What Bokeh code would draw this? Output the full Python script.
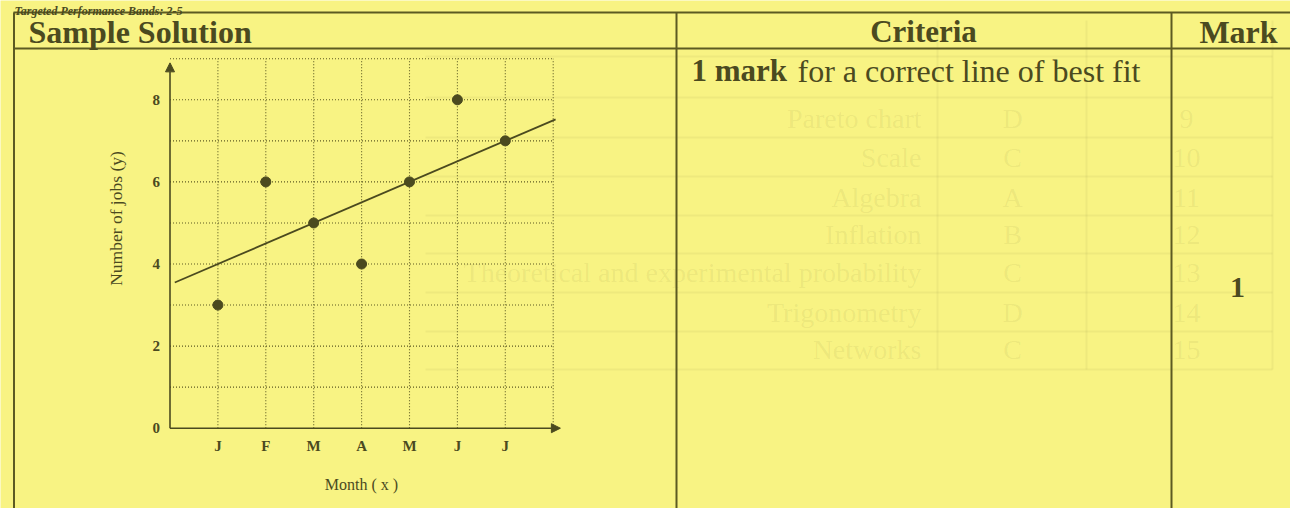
from bokeh.plotting import figure
from bokeh.models import Range1d, LinearAxis, FixedTicker, Label, Arrow, NormalHead
from bokeh.embed import file_html
from bokeh.resources import INLINE
import math

# Jobs per month, January to July
months = ["J", "F", "M", "A", "M", "J", "J"]
month_pos = [1, 2, 3, 4, 5, 6, 7]
jobs = [3, 6, 5, 4, 6, 8, 7]

# Line of best fit y = a + b x
fit_intercept = 3.5
fit_slope = 0.5
fit_x = [0.1, 8.05]
fit_y = [fit_intercept + fit_slope * x for x in fit_x]

y_ticks = [0, 2, 4, 6, 8]
grid_x = [1, 2, 3, 4, 5, 6, 7, 8]
grid_y = [1, 2, 3, 4, 5, 6, 7, 8, 9]

# Table text
title_text = "Targeted Performance Bands: 2-5"
col_heads = ["Sample Solution", "Criteria", "Mark"]
criteria_bold = "1 mark"
criteria_rest = "for a correct line of best fit"
mark_value = "1"

# Faint print showing through from the reverse side of the sheet
back_numbers = ["9", "10", "11", "12", "13", "14", "15"]
back_letters = ["D", "C", "A", "B", "C", "D", "C"]
back_topics = ["Pareto chart", "Scale", "Algebra", "Inflation",
               "Theoretical and experimental probability", "Trigonometry", "Networks"]
back_rows_y = [118, 157, 197, 234, 272, 312, 349]
back_rules_y = [56, 97, 137, 176, 215, 253, 292, 331, 369]

BG = "#f8f383"
INK = "#4b4a1f"
LINE = "#5c5a22"
SERIF = "Liberation Serif"

W, H = 1290, 508
# where the chart origin sits on the page, and the size of one unit
ox, oy = 169.5, 427.7
ux, uy = 47.9, 41.05

p = figure(
    width=W, height=H,
    x_range=Range1d(-ox / ux, (W - ox) / ux),
    y_range=Range1d(-(H - oy) / uy, oy / uy),
    x_axis_type=None, y_axis_type=None,
    output_backend="svg", toolbar_location=None,
    min_border=0, background_fill_color=BG, border_fill_color=BG,
    outline_line_color=None,
)
p.extra_x_ranges = {"page": Range1d(0, W)}
p.extra_y_ranges = {"page": Range1d(H, 0)}

PAGE = dict(x_range_name="page", y_range_name="page")

# ---- show-through from the back of the sheet ----
p.segment(x0=[425] * len(back_rules_y), y0=back_rules_y, x1=[1272] * len(back_rules_y),
          y1=back_rules_y, line_color=INK, line_alpha=0.055, line_width=2, **PAGE)
p.segment(x0=[937, 1086, 1272], y0=[20, 20, 20], x1=[937, 1086, 1272], y1=[369, 369, 369],
          line_color=INK, line_alpha=0.055, line_width=2, **PAGE)
p.text(x=[921] * len(back_topics), y=back_rows_y, text=back_topics,
       text_align="right", text_baseline="middle", text_font_size="28px",
       text_color=INK, text_alpha=0.075, text_font={"value": SERIF}, **PAGE)
p.text(x=[1012] * len(back_letters), y=back_rows_y, text=back_letters,
       text_align="center", text_baseline="middle", text_font_size="28px",
       text_color=INK, text_alpha=0.075, text_font={"value": SERIF}, **PAGE)
p.text(x=[1186] * len(back_numbers), y=back_rows_y, text=back_numbers,
       text_align="center", text_baseline="middle", text_font_size="28px",
       text_color=INK, text_alpha=0.075, text_font={"value": SERIF}, **PAGE)

# ---- table ruling (page coordinates, top-down) ----
p.segment(x0=[13, 13], y0=[12, 48], x1=[W, W], y1=[12, 48],
          line_color=LINE, line_width=2, **PAGE)
p.segment(x0=[13.5, 676, 1171], y0=[12, 12, 12], x1=[13.5, 676, 1171], y1=[H, H, H],
          line_color=LINE, line_width=2, **PAGE)

def page_label(text, x, y, size, style="normal", align="left", baseline="middle", angle=0.0):
    p.add_layout(Label(
        x=x, y=y, text=text, **PAGE,
        text_font=SERIF, text_font_size=f"{size}px", text_font_style=style,
        text_color=INK, text_align=align, text_baseline=baseline, angle=angle,
    ))

page_label(title_text, 14, 10.5, 12, style="bold italic", baseline="alphabetic")
page_label(col_heads[0], 28, 31, 32, style="bold")
page_label(col_heads[1], 923, 31, 31, style="bold", align="center")
page_label(col_heads[2], 1238, 31, 32, style="bold", align="center")
page_label(criteria_bold, 691, 70, 31, style="bold")
page_label(criteria_rest, 797, 70, 32)
page_label(mark_value, 1237, 287, 30, style="bold", align="center")

# ---- chart: dotted grid ----
p.segment(x0=grid_x, y0=[0] * len(grid_x), x1=grid_x, y1=[9] * len(grid_x),
          line_color=LINE, line_width=1.1, line_dash="1 2")
p.segment(x0=[0] * len(grid_y), y0=grid_y, x1=[8] * len(grid_y), y1=grid_y,
          line_color=LINE, line_width=1.1, line_dash="1 2")

# ---- axes ----
xaxis = LinearAxis(
    fixed_location=0,
    ticker=FixedTicker(ticks=month_pos),
    major_label_overrides={m: s for m, s in zip(month_pos, months)},
)
yaxis = LinearAxis(fixed_location=0, ticker=FixedTicker(ticks=y_ticks))
for ax in (xaxis, yaxis):
    ax.axis_line_color = None
    ax.major_tick_line_color = None
    ax.minor_tick_line_color = None
    ax.major_label_text_font = SERIF
    ax.major_label_text_font_size = "15px"
    ax.major_label_text_font_style = "bold"
    ax.major_label_text_color = INK
xaxis.major_label_standoff = 4
yaxis.major_label_standoff = 4
p.add_layout(xaxis, "below")
p.add_layout(yaxis, "left")

for xe, ye in ((8.15, 0), (0, 8.9)):
    p.add_layout(Arrow(
        end=NormalHead(size=9, fill_color=INK, line_color=INK),
        x_start=0, y_start=0, x_end=xe, y_end=ye,
        line_color=INK, line_width=1.6,
    ))

page_label("Month ( x )", 361, 484, 16, align="center")
page_label("Number of jobs (y)", 115, 218, 17.5, align="center", angle=math.pi / 2)

# ---- data ----
p.line(fit_x, fit_y, line_color=INK, line_width=1.8)
p.scatter(month_pos, jobs, size=10, fill_color=INK, line_color=INK)

open("out.html", "w").write(file_html(p, INLINE))
